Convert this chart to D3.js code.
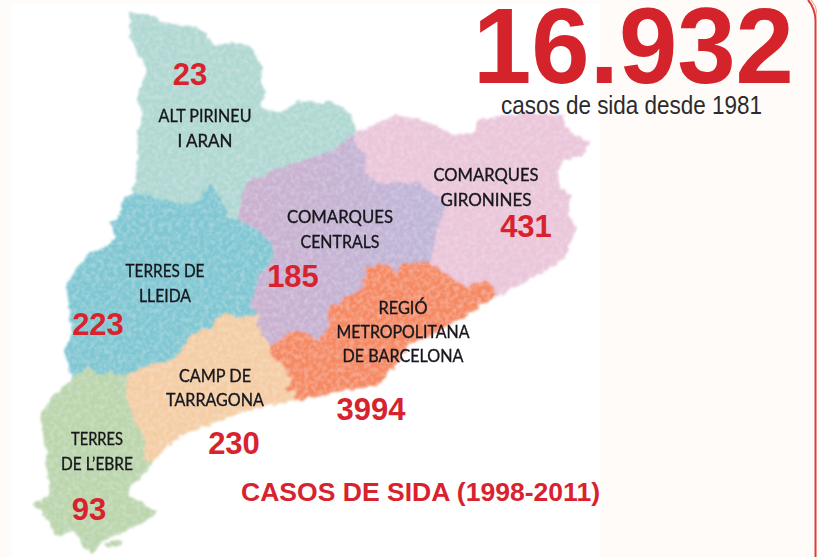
<!DOCTYPE html>
<html><head><meta charset="utf-8">
<style>html,body{margin:0;padding:0;background:#fffbf8;overflow:hidden}svg{display:block}</style>
<script src="https://cdn.jsdelivr.net/npm/d3@7"></script></head>
<body><svg id="c" width="817" height="557"></svg>
<script>
// ---- data ----
const regionNames=["Alt Pirineu i Aran","Terres de Lleida","Comarques Centrals","Comarques Gironines","Regió Metropolitana de Barcelona","Camp de Tarragona","Terres de l'Ebre"];
const caseCounts=[23,223,185,431,3994,230,93];
const totalCases="16.932";
const subtitle="casos de sida desde 1981";
const title="CASOS DE SIDA (1998-2011)";
const regionLabelLines=[["ALT PIRINEU","I ARAN"],["TERRES DE","LLEIDA"],["COMARQUES","CENTRALS"],["COMARQUES","GIRONINES"],["REGIÓ","METROPOLITANA","DE BARCELONA"],["CAMP DE","TARRAGONA"],["TERRES","DE L’EBRE"]];
const regionColors=["#b0d8d3","#7fc7d3","url(#purple)","#eac6da","#f58a62","#f4cda4","#bbd5ad"];

// map geometry: shared border arcs, in map units
const aPL=[[133,192],[150,197],[173,203],[190,204],[200,200],[205,190],[210,185],[216,190],[220,197],[226,212],[230,220],[238,220]];
const aPC=[[238,220],[240,205],[247,183],[265,174],[283,167],[310,158],[333,150],[357,133]];
const aPout=[[357,133],[350,113],[341,106],[330,102],[312,103],[300,100],[290,106],[280,112],[268,109],[260,108],[265,92],[260,83],[261,72],[260,63],[254,52],[250,47],[233,43],[222,46],[213,45],[208,37],[203,32],[187,25],[175,27],[163,23],[155,18],[147,15],[130,13],[132,22],[130,27],[130,36],[133,43],[140,55],[147,70],[142,85],[137,97],[143,110],[141,125],[138,140],[138,158],[137,173],[133,192]];
const aLout=[[73,379],[68,364],[65,350],[69,342],[72,334],[70,315],[68,297],[67,287],[72,277],[80,265],[90,253],[100,250],[110,243],[116,236],[110,223],[120,216],[122,205],[127,197],[133,192]];
const aCL=[[258,314],[250,304],[254,292],[260,277],[273,258],[272,243],[257,230],[238,220]];
const aLT=[[258,314],[240,318],[227,314],[216,320],[213,327],[192,335],[182,350],[173,360],[150,365],[128,375]];
const aLE=[[128,375],[113,373],[100,374],[87,367],[78,374],[73,379]];
const aET=[[128,375],[125,395],[133,417],[145,440],[143,460],[153,462]];
const aEout=[[153,462],[140,478],[128,490],[130,497],[143,503],[155,513],[145,522],[125,530],[110,537],[100,545],[92,555],[85,548],[80,540],[75,532],[55,535],[50,522],[40,510],[32,505],[50,495],[48,470],[45,440],[40,415],[48,402],[60,390],[73,379]];
const aCG=[[357,133],[353,140],[367,157],[365,170],[377,183],[400,183],[420,183],[437,197],[447,207],[437,227],[433,257],[430,263]];
const aCO=[[430,263],[403,263],[397,273],[383,263],[367,267],[363,290],[347,297],[327,310],[330,327],[317,342],[307,332],[290,332],[270,347]];
const aCT=[[270,347],[257,327],[258,314]];
const aTO=[[270,347],[268,355],[277,360],[293,380],[285,390],[295,392],[297,400]];
const aTcoast=[[153,462],[165,448],[180,435],[213,423],[240,413],[267,405],[297,400]];
const aOcoast=[[297,400],[333,392],[362,388],[380,384],[395,365],[410,344],[433,334],[467,314],[493,297],[495,297]];
const aOG=[[495,297],[495,289],[487,279],[467,287],[450,277],[430,263]];
const aGout=[[495,297],[510,290],[528,280],[547,270],[563,260],[570,243],[577,227],[567,213],[570,197],[560,187],[557,173],[563,160],[570,158],[583,155],[588,142],[573,133],[565,127],[563,115],[523,113],[500,117],[477,120],[477,132],[455,135],[437,127],[420,120],[400,115],[377,123],[357,133]];
const deltaIslet=[[105,543],[112,541],[123,540],[120,546],[110,548]];

// label anchors in map units (centre x, first baseline y, line step), then ink widths
const labelAnchors=[[205,122,25],[165,277,25],[340,223,25],[486,181,25],[403,314,24],[215,382,24],[97,445,25]];
const labelWidths=[[93,55],[79,52],[106,79],[105,91],[49,133,121],[72,98],[52,72]];
const countAnchors=[[190,85],[98,335],[293,287],[526,237],[371,420],[234,454],[89,520]];

// ---- drawing ----
const rev=a=>a.slice().reverse();
const ring=(...arcs)=>{const r=arcs.flat();r.push(r[0]);return r;};
const rings=[
 ring(aPL,aPC,aPout),
 ring(aLout,aPL,rev(aCL),aLT,aLE),
 ring(aPC,aCG,aCO,aCT,aCL),
 ring(rev(aCG),rev(aGout),aOG),
 ring(aCO,aTO,aOcoast,aOG),
 ring(rev(aLT),rev(aCT),aTO,rev(aTcoast),rev(aET)),
 ring(aET,aEout,rev(aLE))
];
const svg=d3.select("#c");
const path=d3.geoPath(d3.geoIdentity());
const defs=svg.append("defs");
const g=defs.append("linearGradient").attr("id","purple").attr("x1",0).attr("x2",1).attr("y1",0).attr("y2",0);
g.append("stop").attr("offset","0").attr("stop-color","#cbb0cf");
g.append("stop").attr("offset","1").attr("stop-color","#bfb6d8");
const f=defs.append("filter").attr("id","rough").attr("x","-5%").attr("y","-5%").attr("width","110%").attr("height","110%");
f.append("feTurbulence").attr("type","fractalNoise").attr("baseFrequency",0.14).attr("numOctaves",4).attr("seed",4).attr("result","n");
f.append("feDisplacementMap").attr("in","SourceGraphic").attr("in2","n").attr("scale",7).attr("xChannelSelector","R").attr("yChannelSelector","G").attr("result","d");
f.append("feGaussianBlur").attr("in","d").attr("stdDeviation",0.9).attr("result","b");
// faint mottled print texture, kept inside the map shape
f.append("feTurbulence").attr("type","fractalNoise").attr("baseFrequency",0.22).attr("numOctaves",2).attr("seed",9);
f.append("feColorMatrix").attr("values","0 0 0 0 1  0 0 0 0 1  0 0 0 0 1  0.45 0 0 0 -0.17").attr("result","tex");
f.append("feComposite").attr("in","tex").attr("in2","b").attr("operator","in").attr("result","texIn");
const m=f.append("feMerge");
m.append("feMergeNode").attr("in","b");
m.append("feMergeNode").attr("in","texIn");
const t=defs.append("filter").attr("id","txt");
t.append("feGaussianBlur").attr("stdDeviation",0.45);

// panel
svg.append("rect").attr("width",817).attr("height",557).attr("fill","#fffbf8");
svg.append("rect").attr("x",12).attr("y",4).attr("width",588).attr("height",553).attr("fill","#ffffff");
svg.append("path").attr("d","M808,0 Q815,8 815.5,20 L815.5,557").attr("fill","none").attr("stroke","#d8403f").attr("stroke-width",2);
svg.append("path").attr("d","M811,0 Q817,6 817,14 L817,557").attr("fill","none").attr("stroke","#ee9c88").attr("stroke-width",1);

// map
const map=svg.append("g").attr("filter","url(#rough)");
map.selectAll("path.r").data(rings).join("path").attr("class","r")
 .attr("d",r=>path({type:"Polygon",coordinates:[r]}))
 .attr("fill",(d,i)=>regionColors[i]).attr("stroke",(d,i)=>regionColors[i]).attr("stroke-width",0.6);
map.append("path").attr("d",path({type:"Polygon",coordinates:[[...deltaIslet,deltaIslet[0]]]})).attr("fill",regionColors[6]);

// region labels
const lab=svg.append("g").attr("filter","url(#txt)").attr("font-family","Lato, sans-serif").attr("font-size",17.5).attr("fill","#15171b").attr("stroke","#15171b").attr("stroke-width",0.35).attr("text-anchor","middle");
regionLabelLines.forEach((lines,i)=>{
 const [x,y,step]=labelAnchors[i];
 lab.selectAll(null).data(lines).join("text").attr("x",x).attr("y",(d,k)=>y+k*step)
  .attr("textLength",(d,k)=>labelWidths[i][k]).attr("lengthAdjust","spacingAndGlyphs").text(d=>d);
});

// counts
svg.append("g").attr("font-family","'Liberation Sans',Arial,sans-serif").attr("font-weight",700).attr("font-size",31).attr("fill","#d8232e").attr("text-anchor","middle")
 .selectAll("text").data(caseCounts).join("text").attr("x",(d,i)=>countAnchors[i][0]).attr("y",(d,i)=>countAnchors[i][1]).text(d=>d);

// headings
svg.append("text").attr("x",473).attr("y",83).attr("textLength",321).attr("lengthAdjust","spacingAndGlyphs").attr("font-family","'Liberation Sans',Arial,sans-serif").attr("font-weight",700).attr("font-size",107).attr("fill","#d4232b").text(totalCases);
svg.append("text").attr("x",501).attr("y",114).attr("textLength",261).attr("lengthAdjust","spacingAndGlyphs").attr("font-family","'Liberation Sans',Arial,sans-serif").attr("font-size",25).attr("fill","#2b2b2d").text(subtitle);
svg.append("text").attr("x",241).attr("y",501).attr("textLength",359).attr("lengthAdjust","spacingAndGlyphs").attr("font-family","'Liberation Sans',Arial,sans-serif").attr("font-weight",700).attr("font-size",25.5).attr("fill","#d8232e").text(title);
</script></body></html>
